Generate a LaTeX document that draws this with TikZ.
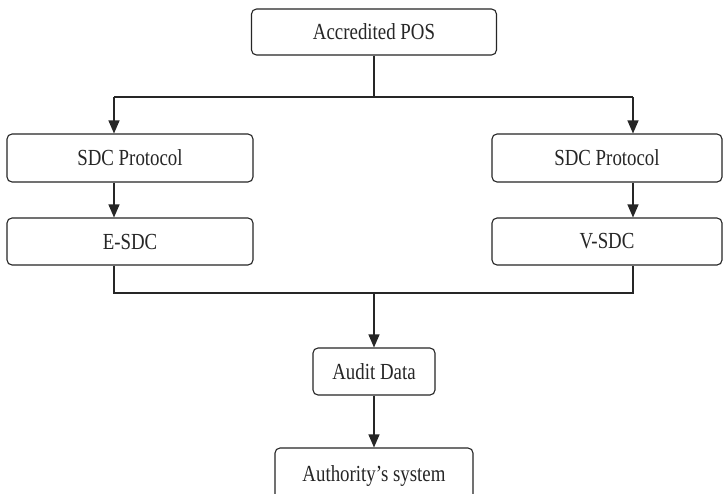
\documentclass[tikz,border=0pt]{standalone}
\usepackage{fontspec}
\usepackage{graphicx}
\setmainfont{Liberation Serif}
\usetikzlibrary{arrows.meta}
\newcommand{\sqz}[1]{\scalebox{0.82}[1]{#1}}
\begin{document}
\begin{tikzpicture}[x=1pt,y=1pt,
  box/.style={draw=black!85, line width=1.1pt, rounded corners=5pt, inner sep=0pt,
    font=\fontsize{23}{26}\selectfont, text=black!85},
  link/.style={draw=black!85, line width=1.1pt},
  arr/.style={link, -{Triangle[width=11pt,length=13pt]}}]
\useasboundingbox (0,0) rectangle (725,-493);
\clip (0,0) rectangle (725,-493);
\fill[white] (0,0) rectangle (725,-493);
\node[box, minimum width=245pt, minimum height=46pt] (pos) at (374,-32) {\sqz{Accredited POS}};
\node[box, minimum width=246pt, minimum height=48pt] (sdcl) at (130,-158) {\sqz{SDC Protocol}};
\node[box, minimum width=246pt, minimum height=47pt] (esdc) at (130,-241.5) {\sqz{E-SDC}};
\node[box, minimum width=230pt, minimum height=48pt] (sdcr) at (607,-158) {\sqz{SDC Protocol}};
\node[box, minimum width=230pt, minimum height=47pt] (vsdc) at (607,-241.5) {\sqz{V-SDC}};
\node[box, minimum width=122pt, minimum height=47pt] (audit) at (374,-371.5) {\sqz{Audit Data}};
\node[box, minimum width=198pt, minimum height=56pt] (auth) at (374,-476) {\sqz{Authority’s system}};
\coordinate (lx) at (114,0);
\coordinate (rx) at (633,0);
\coordinate (jt) at (374,-97);
\coordinate (jb) at (374,-293);
\draw[link] (pos.south) -- (jt);
\draw[link] (jt -| lx) -- (jt -| rx);
\draw[arr] (jt -| lx) -- (sdcl.north -| lx);
\draw[arr] (jt -| rx) -- (sdcr.north -| rx);
\draw[arr] (sdcl.south -| lx) -- (esdc.north -| lx);
\draw[arr] (sdcr.south -| rx) -- (vsdc.north -| rx);
\draw[link] (esdc.south -| lx) -- (jb -| lx) -- (jb -| rx) -- (vsdc.south -| rx);
\draw[arr] (jb) -- (audit.north);
\draw[arr] (audit.south) -- (auth.north);
\end{tikzpicture}
\end{document}
